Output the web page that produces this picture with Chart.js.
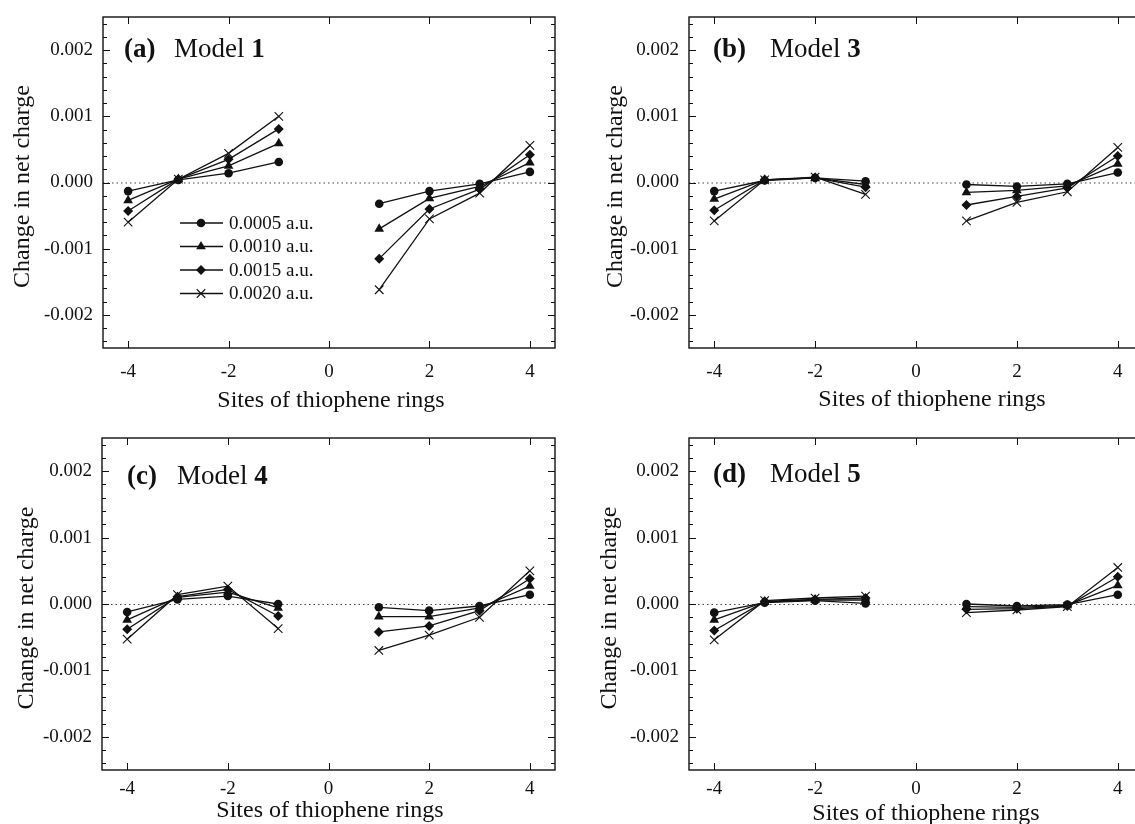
<!DOCTYPE html>
<html lang="en">
<head>
<meta charset="UTF-8">
<title>Change in net charge</title>
<script src="https://cdn.jsdelivr.net/npm/chart.js"></script>
<style>
  html, body { margin: 0; padding: 0; background: #fff; }
  body { width: 1135px; height: 824px; overflow: hidden; position: relative; }
  canvas { position: absolute; }
</style>
</head>
<body>
<canvas id="chartA"></canvas>
<canvas id="chartB"></canvas>
<canvas id="chartC"></canvas>
<canvas id="chartD"></canvas>

<script>
// sites of thiophene rings (0 = gap between the two halves)
const sites = [-4, -3, -2, -1, 0, 1, 2, 3, 4];
const seriesLabels = ['0.0005 a.u.', '0.0010 a.u.', '0.0015 a.u.', '0.0020 a.u.'];
const xTickValues = [-4, -2, 0, 2, 4];
const yTickValues = [-0.002, -0.001, 0, 0.001, 0.002];

// Model 1
const m1_0005 = [-0.00013, 0.00004, 0.00014, 0.00031, null, -0.00032, -0.00013, -0.00002, 0.00016];
const m1_0010 = [-0.00027, 0.00005, 0.00025, 0.00059, null, -0.00070, -0.00024, -0.00006, 0.00030];
const m1_0015 = [-0.00043, 0.00005, 0.00035, 0.00081, null, -0.00115, -0.00040, -0.00010, 0.00042];
const m1_0020 = [-0.00060, 0.00005, 0.00044, 0.00100, null, -0.00162, -0.00055, -0.00016, 0.00056];

// Model 3
const m3_0005 = [-0.00013, 0.00003, 0.00007, 0.00002, null, -0.00003, -0.00006, -0.00002, 0.00015];
const m3_0010 = [-0.00025, 0.00004, 0.00007, -0.00003, null, -0.00015, -0.00012, -0.00005, 0.00028];
const m3_0015 = [-0.00042, 0.00004, 0.00007, -0.00007, null, -0.00034, -0.00021, -0.00008, 0.00040];
const m3_0020 = [-0.00058, 0.00004, 0.00008, -0.00018, null, -0.00058, -0.00030, -0.00014, 0.00053];

// Model 4
const m4_0005 = [-0.00012, 0.00007, 0.00012, 0.00000, null, -0.00005, -0.00010, -0.00003, 0.00014];
const m4_0010 = [-0.00024, 0.00010, 0.00018, -0.00006, null, -0.00019, -0.00019, -0.00006, 0.00027];
const m4_0015 = [-0.00038, 0.00011, 0.00022, -0.00018, null, -0.00042, -0.00033, -0.00010, 0.00038];
const m4_0020 = [-0.00053, 0.00014, 0.00027, -0.00037, null, -0.00070, -0.00047, -0.00020, 0.00050];

// Model 5
const m5_0005 = [-0.00013, 0.00002, 0.00005, 0.00001, null, 0.00000, -0.00003, -0.00001, 0.00014];
const m5_0010 = [-0.00024, 0.00003, 0.00006, 0.00006, null, -0.00004, -0.00005, -0.00002, 0.00028];
const m5_0015 = [-0.00040, 0.00004, 0.00007, 0.00009, null, -0.00008, -0.00007, -0.00003, 0.00041];
const m5_0020 = [-0.00054, 0.00005, 0.00009, 0.00012, null, -0.00013, -0.00009, -0.00004, 0.00055];

const markers = [
  { style: 'circle', radius: 4.3 },
  { style: 'triangle', radius: 5.6 },
  { style: 'rectRot', radius: 5 },
  { style: 'crossRot', radius: 6 }
];

const INK = '#111';
const FONT = '"Liberation Serif", "Times New Roman", serif';
const AXIS_W = 100, AXIS_H = 74, PAD = 6;

const panels = [
  { id: 'chartA', tag: '(a)', model: '1', series: [m1_0005, m1_0010, m1_0015, m1_0020],
    frame: { l: 103, t: 17, r: 555, b: 348 }, yTitleDx: -80, xTitleCx: 228, xTitleDy: 53,
    xTickPad: 13, tagDx: 21, modelDx: 71, tagDy: 33, legend: true },
  { id: 'chartB', tag: '(b)', model: '3', series: [m3_0005, m3_0010, m3_0015, m3_0020],
    frame: { l: 689, t: 17, r: 1143, b: 348 }, yTitleDx: -73, xTitleCx: 243, xTitleDy: 52,
    xTickPad: 13, tagDx: 24, modelDx: 81, tagDy: 33 },
  { id: 'chartC', tag: '(c)', model: '4', series: [m4_0005, m4_0010, m4_0015, m4_0020],
    frame: { l: 102, t: 438, r: 555, b: 770 }, yTitleDx: -75, xTitleCx: 228, xTitleDy: 41,
    xTickPad: 8, tagDx: 25, modelDx: 75, tagDy: 39 },
  { id: 'chartD', tag: '(d)', model: '5', series: [m5_0005, m5_0010, m5_0015, m5_0020],
    frame: { l: 689, t: 438, r: 1143, b: 770 }, yTitleDx: -79, xTitleCx: 237, xTitleDy: 44,
    xTickPad: 8, tagDx: 24, modelDx: 81, tagDy: 37 }
];

// minor y ticks every 0.0002
const yMinorTicks = [];
for (let k = -12; k <= 12; k++) {
  if (k % 5 !== 0) yMinorTicks.push(k * 0.0002);
}

function drawMarker(ctx, style, r, x, y) {
  ctx.beginPath();
  if (style === 'circle') {
    ctx.arc(x, y, r, 0, Math.PI * 2);
    ctx.fill();
  } else if (style === 'triangle') {
    for (let i = 0; i < 3; i++) {
      const a = i * Math.PI * 2 / 3;
      const px = x + Math.sin(a) * r, py = y - Math.cos(a) * r;
      if (i === 0) ctx.moveTo(px, py); else ctx.lineTo(px, py);
    }
    ctx.closePath();
    ctx.fill();
  } else if (style === 'rectRot') {
    ctx.moveTo(x, y - r); ctx.lineTo(x + r, y); ctx.lineTo(x, y + r); ctx.lineTo(x - r, y);
    ctx.closePath();
    ctx.fill();
  } else {
    const d = r * Math.SQRT1_2;
    ctx.moveTo(x - d, y - d); ctx.lineTo(x + d, y + d);
    ctx.moveTo(x + d, y - d); ctx.lineTo(x - d, y + d);
    ctx.lineWidth = 1.1;
    ctx.stroke();
  }
}

function decorPlugin(p) {
  return {
    id: 'decor',
    beforeDatasetsDraw(chart) {
      // dotted zero line
      const ctx = chart.ctx, a = chart.chartArea;
      const y0 = chart.scales.y.getPixelForValue(0);
      ctx.save();
      ctx.strokeStyle = '#444';
      ctx.lineWidth = 1;
      ctx.setLineDash([1.5, 3]);
      ctx.beginPath();
      ctx.moveTo(a.left, y0 + 0.5);
      ctx.lineTo(a.right, y0 + 0.5);
      ctx.stroke();
      ctx.restore();
    },
    afterDraw(chart) {
      const ctx = chart.ctx, a = chart.chartArea;
      const xs = chart.scales.x, ys = chart.scales.y;
      ctx.save();
      ctx.strokeStyle = INK;
      ctx.fillStyle = INK;

      // frame
      ctx.lineWidth = 1.4;
      ctx.strokeRect(a.left, a.top, a.right - a.left, a.bottom - a.top);

      // inward ticks
      ctx.lineWidth = 1;
      ctx.beginPath();
      yTickValues.forEach(v => {
        const py = Math.round(ys.getPixelForValue(v)) + 0.5;
        ctx.moveTo(a.left, py); ctx.lineTo(a.left + 7, py);
        ctx.moveTo(a.right, py); ctx.lineTo(a.right - 7, py);
      });
      yMinorTicks.forEach(v => {
        const py = Math.round(ys.getPixelForValue(v)) + 0.5;
        ctx.moveTo(a.left, py); ctx.lineTo(a.left + 4, py);
        ctx.moveTo(a.right, py); ctx.lineTo(a.right - 4, py);
      });
      xTickValues.forEach(v => {
        const px = Math.round(xs.getPixelForValue(v)) + 0.5;
        ctx.moveTo(px, a.top); ctx.lineTo(px, a.top + 7);
        ctx.moveTo(px, a.bottom); ctx.lineTo(px, a.bottom - 7);
      });
      ctx.stroke();

      // axis titles
      ctx.font = '24px ' + FONT;
      ctx.textAlign = 'center';
      ctx.textBaseline = 'middle';
      ctx.fillText('Sites of thiophene rings', a.left + p.xTitleCx, a.bottom + p.xTitleDy);
      ctx.save();
      ctx.translate(a.left + p.yTitleDx, (a.top + a.bottom) / 2 + 4);
      ctx.rotate(-Math.PI / 2);
      ctx.fillText('Change in net charge', 0, 0);
      ctx.restore();

      // panel label
      ctx.textAlign = 'left';
      const ty = a.top + p.tagDy;
      ctx.font = 'bold 27px ' + FONT;
      ctx.fillText(p.tag, a.left + p.tagDx, ty);
      ctx.font = '27px ' + FONT;
      const mw = ctx.measureText('Model ').width;
      ctx.fillText('Model ', a.left + p.modelDx, ty);
      ctx.font = 'bold 27px ' + FONT;
      ctx.fillText(p.model, a.left + p.modelDx + mw, ty);

      // legend
      if (p.legend) {
        ctx.font = '19px ' + FONT;
        seriesLabels.forEach((lab, i) => {
          const ly = a.top + 206 + i * 23.5;
          ctx.lineWidth = 1.3;
          ctx.beginPath();
          ctx.moveTo(a.left + 77, ly); ctx.lineTo(a.left + 120, ly);
          ctx.stroke();
          drawMarker(ctx, markers[i].style, markers[i].radius, a.left + 98, ly);
          ctx.fillText(lab, a.left + 126, ly + 1);
        });
      }
      ctx.restore();
    }
  };
}

function makePanel(p) {
  const c = document.getElementById(p.id);
  const f = p.frame;
  c.width = f.r - f.l + AXIS_W + PAD;
  c.height = f.b - f.t + AXIS_H + PAD;
  c.style.left = (f.l - AXIS_W) + 'px';
  c.style.top = (f.t - PAD) + 'px';

  const datasets = p.series.map((vals, i) => ({
    label: seriesLabels[i],
    data: sites.map((x, j) => ({ x: x, y: vals[j] })),
    borderColor: INK,
    borderWidth: 1.3,
    pointStyle: markers[i].style,
    pointRadius: markers[i].radius,
    pointBackgroundColor: INK,
    pointBorderColor: INK,
    pointBorderWidth: markers[i].style === 'crossRot' ? 1.1 : 0,
    spanGaps: false,
    fill: false,
    tension: 0
  }));

  new Chart(c.getContext('2d'), {
    type: 'line',
    data: { datasets: datasets },
    options: {
      responsive: false,
      animation: false,
      devicePixelRatio: 1,
      events: [],
      layout: { autoPadding: false, padding: { top: PAD, right: PAD, left: 0, bottom: 0 } },
      plugins: { legend: { display: false }, tooltip: { enabled: false } },
      scales: {
        x: {
          type: 'linear', min: -4.5, max: 4.5,
          grid: { display: false, drawTicks: false },
          border: { display: false },
          ticks: { padding: p.xTickPad, color: INK, font: { size: 19 }, callback: v => String(v) },
          afterBuildTicks: s => { s.ticks = xTickValues.map(v => ({ value: v })); },
          afterFit: s => { s.height = AXIS_H; s.paddingLeft = 0; s.paddingRight = 0; }
        },
        y: {
          type: 'linear', min: -0.0025, max: 0.0025,
          grid: { display: false, drawTicks: false },
          border: { display: false },
          ticks: { padding: 10, color: INK, font: { size: 19 }, callback: v => v.toFixed(3) },
          afterBuildTicks: s => { s.ticks = yTickValues.map(v => ({ value: v })); },
          afterFit: s => { s.width = AXIS_W; s.paddingTop = 0; s.paddingBottom = 0; }
        }
      }
    },
    plugins: [decorPlugin(p)]
  });
}

Chart.defaults.font.family = FONT;
Chart.defaults.color = INK;
panels.forEach(makePanel);
</script>
</body>
</html>
